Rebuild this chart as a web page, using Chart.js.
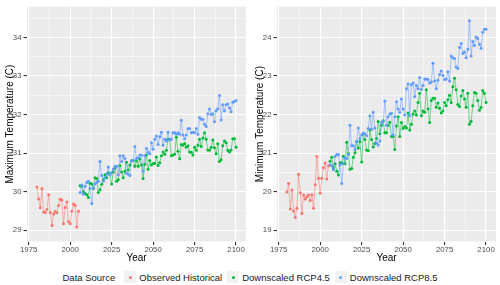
<!DOCTYPE html>
<html>
<head>
<meta charset="utf-8">
<script src="https://cdn.jsdelivr.net/npm/chart.js@4.4.0/dist/chart.umd.min.js"></script>
<style>
  body { margin: 0; background: #fff; font-family: "Liberation Sans", Arial, sans-serif; }
  #wrap { position: relative; width: 500px; height: 285px; overflow: hidden; }
  .panel { position: absolute; top: 0; width: 250px; height: 264px; }
  #legend { position: absolute; left: 0; top: 269px; width: 500px; height: 16px;
            display: flex; justify-content: center; align-items: center;
            font-size: 9.5px; color: #1a1a1a; white-space: nowrap; }
  #legend .key { display: inline-block; width: 12px; height: 12px; background: #F2F2F2;
                 position: relative; margin: 0 3px 0 5px; }
  #legend .key i { position: absolute; left: 4.5px; top: 4.5px; width: 3px; height: 3px; border-radius: 50%; }
  #legend .ttl { margin-right: 4px; }
</style>
</head>
<body>
<div id="wrap">
  <div class="panel" style="left:0"><canvas id="maxChart" width="250" height="264"></canvas></div>
  <div class="panel" style="left:250px"><canvas id="minChart" width="250" height="264"></canvas></div>
  <div id="legend">
    <span class="ttl">Data Source</span>
    <span class="key"><i style="background:#F8766D"></i></span><span>Observed Historical</span>
    <span class="key"><i style="background:#00BA38"></i></span><span>Downscaled RCP4.5</span>
    <span class="key"><i style="background:#619CFF"></i></span><span>Downscaled RCP8.5</span>
  </div>
</div>
<script>
// years
const histYears = [1980, 1981, 1982, 1983, 1984, 1985, 1986, 1987, 1988, 1989, 1990, 1991, 1992,
    1993, 1994, 1995, 1996, 1997, 1998, 1999, 2000, 2001, 2002, 2003, 2004, 2005];
const projYears = [2006, 2007, 2008, 2009, 2010, 2011, 2012, 2013, 2014, 2015, 2016, 2017, 2018, 2019,
    2020, 2021, 2022, 2023, 2024, 2025, 2026, 2027, 2028, 2029, 2030, 2031, 2032, 2033, 2034, 2035,
    2036, 2037, 2038, 2039, 2040, 2041, 2042, 2043, 2044, 2045, 2046, 2047, 2048, 2049, 2050, 2051,
    2052, 2053, 2054, 2055, 2056, 2057, 2058, 2059, 2060, 2061, 2062, 2063, 2064, 2065, 2066, 2067,
    2068, 2069, 2070, 2071, 2072, 2073, 2074, 2075, 2076, 2077, 2078, 2079, 2080, 2081, 2082, 2083,
    2084, 2085, 2086, 2087, 2088, 2089, 2090, 2091, 2092, 2093, 2094, 2095, 2096, 2097, 2098, 2099, 2100];

// Maximum temperature (C)
const maxObserved = [30.12, 29.81, 29.58, 30.08, 29.47, 29.46, 29.54, 29.92, 29.46, 29.12, 29.42, 29.49, 29.45,
    29.64, 29.80, 29.78, 29.17, 29.59, 29.73, 29.22, 29.17, 29.49, 29.68, 29.64, 29.08, 29.49];
const maxRcp45 = [30.15, 30.14, 30.00, 29.95, 29.92, 29.85, 30.22, 30.20, 30.08, 30.36, 30.34, 29.98, 30.05, 30.19,
    30.31, 30.44, 30.36, 30.49, 30.44, 30.20, 30.51, 30.61, 30.27, 30.31, 30.68, 30.51, 30.36, 30.53, 30.76, 30.56,
    30.69, 30.80, 30.81, 30.66, 30.80, 30.66, 30.85, 30.69, 30.34, 30.71, 30.95, 30.58, 30.81, 30.69, 30.73, 30.73,
    30.90, 30.68, 30.75, 30.93, 31.03, 30.97, 31.07, 31.36, 31.36, 30.93, 30.95, 30.97, 31.41, 31.05, 30.85, 31.22,
    31.20, 31.25, 31.15, 31.19, 31.03, 31.02, 30.95, 31.15, 31.07, 31.20, 31.36, 31.17, 31.39, 31.53, 31.36, 31.08,
    31.07, 31.15, 31.34, 31.14, 30.98, 31.24, 30.78, 30.83, 31.19, 31.31, 31.27, 31.07, 31.03, 31.08, 31.37, 31.37, 31.15];
const maxRcp85 = [29.98, 30.17, 29.93, 30.14, 30.24, 30.27, 30.08, 29.69, 30.10, 30.20, 30.24, 30.27, 30.78, 30.42,
    30.27, 30.36, 30.46, 30.64, 30.44, 30.49, 30.58, 30.66, 30.66, 30.44, 30.93, 30.78, 30.93, 30.86, 30.47, 30.46,
    30.42, 30.80, 30.81, 31.17, 30.86, 30.88, 30.95, 30.95, 30.53, 30.93, 31.12, 31.02, 30.98, 31.27, 31.10, 31.36,
    31.44, 31.22, 31.42, 31.54, 31.20, 31.36, 31.31, 31.54, 31.34, 31.36, 31.53, 31.53, 31.49, 31.53, 31.49, 31.85,
    31.47, 31.37, 31.47, 31.63, 31.64, 31.53, 31.54, 31.53, 31.64, 31.49, 31.92, 31.88, 31.88, 31.75, 31.69, 32.02,
    32.14, 32.00, 32.02, 31.81, 32.10, 32.15, 32.49, 31.86, 32.25, 32.10, 32.25, 32.27, 32.17, 32.07, 32.32, 32.34, 32.36];

// Minimum temperature (C)
const minObserved = [19.99, 20.21, 19.55, 20.04, 19.50, 19.33, 19.57, 20.45, 19.97, 19.43, 19.91, 19.81, 19.87,
    19.91, 19.77, 19.92, 19.57, 20.18, 20.91, 20.35, 19.96, 20.35, 20.62, 20.74, 20.33, 20.67];
const minRcp45 = [20.79, 20.89, 20.62, 20.72, 20.53, 20.43, 20.75, 20.74, 20.92, 20.72, 21.28, 20.99, 20.58, 20.60,
    20.89, 21.01, 21.30, 21.13, 21.30, 20.77, 21.50, 21.35, 21.08, 21.06, 21.60, 21.35, 21.16, 21.25, 21.38, 21.82,
    21.50, 21.72, 21.84, 21.53, 21.53, 21.72, 21.80, 21.43, 21.43, 21.09, 21.70, 21.94, 21.43, 21.79, 21.64, 21.69,
    21.65, 22.04, 21.60, 21.75, 22.01, 22.09, 21.99, 22.31, 22.55, 21.97, 22.09, 22.06, 22.64, 22.14, 21.79, 22.36,
    22.42, 22.42, 22.19, 22.30, 22.16, 22.04, 22.09, 22.31, 22.23, 22.38, 22.50, 22.31, 22.72, 22.94, 22.64, 22.26,
    22.21, 22.48, 22.62, 22.40, 22.19, 22.55, 21.75, 21.82, 22.23, 22.57, 22.55, 22.36, 22.11, 22.18, 22.62, 22.55, 22.31];
const minRcp85 = [20.70, 20.67, 20.57, 20.91, 20.96, 20.96, 20.70, 20.21, 20.72, 20.87, 20.86, 20.96, 21.72, 21.19,
    21.19, 21.09, 21.30, 21.65, 21.38, 21.47, 21.52, 21.50, 21.45, 21.64, 21.97, 21.62, 22.06, 21.65, 21.26, 21.21,
    21.31, 21.79, 21.82, 22.35, 21.72, 21.94, 22.01, 22.03, 21.47, 21.94, 22.33, 22.14, 22.06, 22.40, 22.14, 21.99,
    22.67, 22.79, 21.97, 22.77, 22.82, 22.47, 22.75, 22.67, 22.96, 22.65, 22.75, 22.92, 22.92, 22.91, 22.82, 22.84,
    23.33, 22.87, 22.67, 22.89, 23.04, 23.13, 23.01, 22.91, 22.92, 23.11, 22.87, 23.52, 23.47, 23.45, 23.23, 23.19,
    23.74, 23.84, 23.58, 23.62, 23.47, 23.69, 24.43, 23.52, 23.89, 23.79, 24.01, 23.97, 23.82, 23.72, 24.13, 24.21, 24.21];

// ticks
const xMajor = [1975, 2000, 2025, 2050, 2075, 2100];
const xMinor = [1987.5, 2012.5, 2037.5, 2062.5, 2087.5];
const maxYMajor = [29, 30, 31, 32, 33, 34];
const maxYMinor = [29.5, 30.5, 31.5, 32.5, 33.5, 34.5];
const minYMajor = [19, 20, 21, 22, 23, 24];
const minYMinor = [19.5, 20.5, 21.5, 22.5, 23.5, 24.5];

const FONT = '"Liberation Sans", Arial, sans-serif';
const COLORS = { obs: '#F8766D', rcp45: '#00BA38', rcp85: '#619CFF' };

// grey panel background like ggplot
const panelBg = {
    id: 'panelBg',
    beforeDraw(chart) {
        const { ctx, chartArea: a } = chart;
        ctx.save();
        ctx.fillStyle = '#EBEBEB';
        ctx.fillRect(a.left, a.top, a.right - a.left, a.bottom - a.top);
        ctx.restore();
    }
};

function toPoints(xs, ys) {
    return ys.map((y, i) => ({ x: xs[i], y }));
}

function series(label, xs, ys, color, lineAlpha) {
    return {
        label,
        data: toPoints(xs, ys),
        borderColor: color + lineAlpha,
        borderWidth: 1,
        pointRadius: 1.5,
        pointBorderWidth: 0,
        pointBackgroundColor: color,
        tension: 0
    };
}

function tickList(major, minor) {
    return major.concat(minor).sort((a, b) => a - b);
}

function makePanel(id, yTitle, yMin, yMax, yMajor, yMinor, obs, r45, r85) {
    const isMajorX = v => xMajor.includes(v);
    const isMajorY = v => yMajor.includes(v);
    return new Chart(document.getElementById(id), {
        type: 'line',
        data: {
            datasets: [
                series('Downscaled RCP8.5', projYears, r85, COLORS.rcp85, '88'),
                series('Downscaled RCP4.5', projYears, r45, COLORS.rcp45, '88'),
                series('Observed Historical', histYears, obs, COLORS.obs, '88')
            ]
        },
        options: {
            responsive: false,
            animation: false,
            layout: { padding: { top: 2, right: 3, bottom: 0, left: 0 } },
            plugins: { legend: { display: false }, tooltip: { enabled: false } },
            scales: {
                x: {
                    type: 'linear',
                    min: 1974,
                    max: 2106,
                    afterBuildTicks: s => { s.ticks = tickList(xMajor, xMinor).map(v => ({ value: v })); },
                    afterFit: s => { s.height = 22.5; },
                    border: { display: false },
                    grid: {
                        color: '#FFFFFF',
                        lineWidth: c => isMajorX(c.tick.value) ? 1.1 : 0.5,
                        tickLength: 3.5,
                        tickColor: c => isMajorX(c.tick.value) ? '#333333' : 'rgba(0,0,0,0)'
                    },
                    ticks: {
                        autoSkip: false,
                        maxRotation: 0,
                        padding: 0,
                        color: '#4D4D4D',
                        font: { family: FONT, size: 7.8 },
                        callback: v => isMajorX(v) ? String(v) : ''
                    },
                    title: {
                        display: true,
                        text: 'Year',
                        color: '#000000',
                        font: { family: FONT, size: 10 },
                        padding: { top: 0, bottom: 0 }
                    }
                },
                y: {
                    min: yMin,
                    max: yMax,
                    afterBuildTicks: s => { s.ticks = tickList(yMajor, yMinor).map(v => ({ value: v })); },
                    afterFit: s => { s.width = 27; },
                    border: { display: false },
                    grid: {
                        color: '#FFFFFF',
                        lineWidth: c => isMajorY(c.tick.value) ? 1.1 : 0.5,
                        tickLength: 3.5,
                        tickColor: c => isMajorY(c.tick.value) ? '#333333' : 'rgba(0,0,0,0)'
                    },
                    ticks: {
                        padding: 2,
                        color: '#4D4D4D',
                        font: { family: FONT, size: 7.8 },
                        callback: v => isMajorY(v) ? String(v) : ''
                    },
                    title: {
                        display: true,
                        text: yTitle,
                        color: '#000000',
                        font: { family: FONT, size: 10 },
                        padding: { top: 4, bottom: 0 }
                    }
                }
            }
        },
        plugins: [panelBg]
    });
}

makePanel('maxChart', 'Maximum Temperature (C)', 28.707, 34.796, maxYMajor, maxYMinor,
    maxObserved, maxRcp45, maxRcp85);
makePanel('minChart', 'Minimum Temperature (C)', 18.707, 24.796, minYMajor, minYMinor,
    minObserved, minRcp45, minRcp85);
</script>
</body>
</html>
